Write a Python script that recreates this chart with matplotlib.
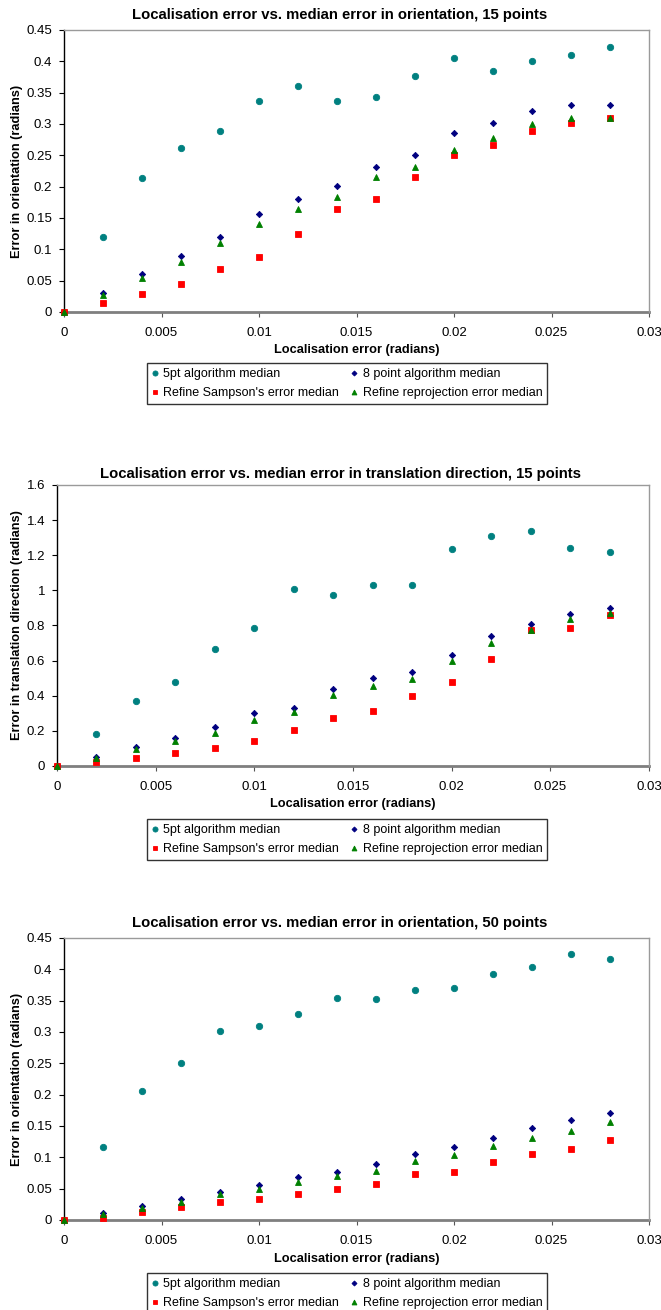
import matplotlib
matplotlib.use("Agg")
import matplotlib.pyplot as plt
from matplotlib.ticker import FuncFormatter, MultipleLocator

plt.rcParams['font.family'] = ['Liberation Sans', 'DejaVu Sans']

# Localisation error (radians) on the x axis
loc_err = [0.000, 0.002, 0.004, 0.006, 0.008, 0.010, 0.012, 0.014,
           0.016, 0.018, 0.020, 0.022, 0.024, 0.026, 0.028]

series_names = ["5pt algorithm median", "8 point algorithm median",
                "Refine Sampson's error median", "Refine reprojection error median"]

# Orientation error, 15 points
orient15_5pt = [0.000, 0.119, 0.214, 0.261, 0.289, 0.336, 0.360, 0.336,
                0.343, 0.376, 0.406, 0.385, 0.401, 0.410, 0.423]
orient15_8pt = [0.000, 0.030, 0.060, 0.090, 0.120, 0.157, 0.181, 0.201,
                0.231, 0.250, 0.286, 0.301, 0.320, 0.331, 0.331]
orient15_sampson = [0.000, 0.015, 0.029, 0.045, 0.069, 0.088, 0.124, 0.165,
                    0.180, 0.216, 0.251, 0.266, 0.289, 0.302, 0.310]
orient15_reproj = [0.000, 0.027, 0.054, 0.080, 0.110, 0.141, 0.164, 0.184,
                   0.215, 0.232, 0.258, 0.277, 0.300, 0.310, 0.310]

# Translation direction error, 15 points
trans15_5pt = [0.000, 0.180, 0.368, 0.480, 0.665, 0.787, 1.009, 0.971,
               1.033, 1.033, 1.238, 1.310, 1.336, 1.242, 1.217]
trans15_8pt = [0.000, 0.053, 0.110, 0.159, 0.220, 0.303, 0.332, 0.436,
               0.499, 0.535, 0.631, 0.743, 0.806, 0.866, 0.899]
trans15_sampson = [0.000, 0.021, 0.044, 0.072, 0.100, 0.140, 0.203, 0.271,
                   0.311, 0.396, 0.476, 0.612, 0.772, 0.783, 0.861]
trans15_reproj = [0.000, 0.045, 0.095, 0.142, 0.190, 0.262, 0.305, 0.402,
                  0.457, 0.497, 0.600, 0.703, 0.772, 0.838, 0.870]

# Orientation error, 50 points
orient50_5pt = [0.000, 0.117, 0.206, 0.250, 0.301, 0.310, 0.328, 0.354,
                0.353, 0.367, 0.371, 0.392, 0.404, 0.425, 0.417]
orient50_8pt = [0.000, 0.011, 0.023, 0.033, 0.045, 0.056, 0.069, 0.077,
                0.090, 0.105, 0.116, 0.131, 0.147, 0.159, 0.170]
orient50_sampson = [0.000, 0.003, 0.013, 0.020, 0.028, 0.034, 0.042, 0.050,
                    0.057, 0.073, 0.077, 0.092, 0.105, 0.114, 0.127]
orient50_reproj = [0.000, 0.009, 0.019, 0.029, 0.041, 0.049, 0.061, 0.070,
                   0.078, 0.094, 0.103, 0.118, 0.131, 0.142, 0.156]

titles = ["Localisation error vs. median error in orientation, 15 points",
          "Localisation error vs. median error in translation direction, 15 points",
          "Localisation error vs. median error in orientation, 50 points"]
ylabels = ["Error in orientation (radians)",
           "Error in translation direction (radians)",
           "Error in orientation (radians)"]
xlabel = "Localisation error (radians)"

panels = [
    (orient15_5pt, orient15_8pt, orient15_sampson, orient15_reproj),
    (trans15_5pt, trans15_8pt, trans15_sampson, trans15_reproj),
    (orient50_5pt, orient50_8pt, orient50_sampson, orient50_reproj),
]
y_max = [0.45, 1.6, 0.45]
y_step = [0.05, 0.2, 0.05]

styles = [
    dict(marker='o', color='#008080', markersize=4.6),
    dict(marker='D', color='#000080', markersize=3.2),
    dict(marker='s', color='#FF0000', markersize=4.4),
    dict(marker='^', color='#008000', markersize=4.4),
]

W, H = 661, 1310
fig = plt.figure(figsize=(W / 100, H / 100), dpi=100)

# pixel layout of each panel: left, right, top, bottom, title y, xlabel y, legend top
layout = [
    (64, 649, 30, 312, 15, 350, 363),
    (57, 649, 485, 766, 474, 804, 819),
    (64, 649, 938, 1220, 923, 1259, 1273),
]

fmt = FuncFormatter(lambda v, p: "%g" % round(v, 4))

for i, (series, (l, r, t, b, ty, xly, lgt)) in enumerate(zip(panels, layout)):
    ax = fig.add_axes([l / W, 1 - b / H, (r - l) / W, (b - t) / H])
    handles = []
    for vals, st in zip(series, styles):
        h, = ax.plot(loc_err, vals, linestyle='none', marker=st['marker'],
                     color=st['color'], markersize=st['markersize'],
                     markeredgewidth=0.6, clip_on=False, zorder=3)
        handles.append(h)
    ax.set_xlim(0, 0.03)
    ax.set_ylim(0, y_max[i])
    ax.xaxis.set_major_locator(MultipleLocator(0.005))
    ax.yaxis.set_major_locator(MultipleLocator(y_step[i]))
    ax.xaxis.set_major_formatter(fmt)
    ax.yaxis.set_major_formatter(fmt)

    ax.spines['left'].set_color('black')
    ax.spines['left'].set_linewidth(1.0)
    ax.spines['bottom'].set_color('#7f7f7f')
    ax.spines['bottom'].set_linewidth(2.0)
    ax.spines['bottom'].set_zorder(2)
    for s in ('top', 'right'):
        ax.spines[s].set_color('#9a9a9a')
        ax.spines[s].set_linewidth(1.0)

    ax.tick_params(axis='y', direction='out', length=3.5, width=0.8,
                   color='black', pad=5, labelsize=9.5)
    ax.tick_params(axis='x', direction='out', length=3.5, width=0.8,
                   color='#555555', pad=7, labelsize=9.5)

    cx = (l + r) / 2
    fig.text(340 / W, 1 - ty / H, titles[i], ha='center', va='center',
             fontsize=10.7, fontweight='bold')
    fig.text(cx / W, 1 - xly / H, xlabel, ha='center', va='center',
             fontsize=9.2, fontweight='bold')
    fig.text(17 / W, 1 - ((t + b) / 2) / H, ylabels[i], ha='center',
             va='center', rotation=90, fontsize=9.2, fontweight='bold')

    # two-column legend read row by row
    order = [0, 2, 1, 3]
    leg = fig.legend([handles[k] for k in order], [series_names[k] for k in order],
                     ncol=2, loc='upper center',
                     bbox_to_anchor=(347 / W, 1 - lgt / H),
                     frameon=True, fancybox=False, fontsize=9,
                     handlelength=0.5, handletextpad=0.4, columnspacing=1.0,
                     borderpad=0.4, labelspacing=0.55, borderaxespad=0,
                     markerscale=0.8)
    leg.get_frame().set_edgecolor('black')
    leg.get_frame().set_linewidth(1.0)

fig.savefig("out.png", dpi=100)
